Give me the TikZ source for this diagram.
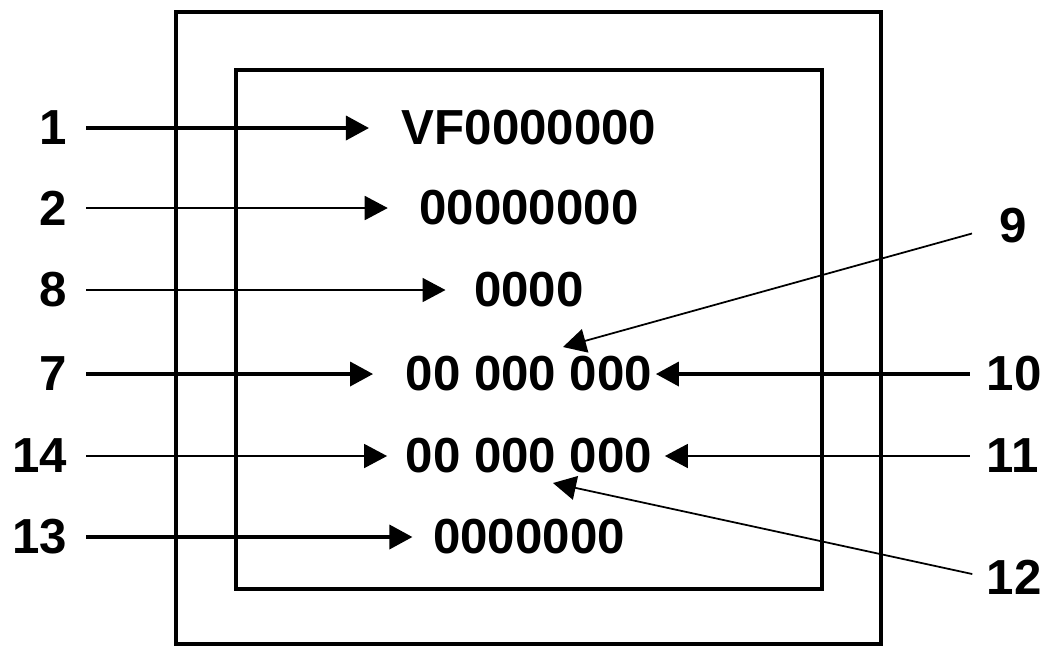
\documentclass[tikz,border=0pt]{standalone}
\usepackage{fontspec}
\setmainfont{Liberation Sans}
\usetikzlibrary{arrows.meta,positioning,calc}

\begin{document}
\begin{tikzpicture}[x=0.01cm, y=-0.01cm,
    every node/.style={font=\bfseries\fontsize{14}{16}\selectfont, inner sep=0pt},
    tip/.style={-{Triangle[length=2.3mm,width=2.4mm]}},
    bold/.style={tip, line width=1pt},
    fine/.style={tip, line width=0.5pt}]
    \useasboundingbox (0,0) rectangle (1047,647);
    % housing and display
    \draw[line width=1pt] (176,12) rectangle (881,644);
    \draw[line width=1.1pt] (236,70) rectangle (822,589);

    % display lines
    \node (vf) at (529,128) {VF0000000};
    \node (code) at (529,208) {00000000};
    \node (block) at (529,290) {0000};
    \node (upper) at (529,374) {00 000 000};
    \node (lower) at (529,456) {00 000 000};
    \node (serial) at (529,537) {0000000};

    % reference numbers
    \node[anchor=east] (n1) at (68,128) {1};
    \node[anchor=east] (n2) at (68,208) {2};
    \node[anchor=east] (n8) at (68,290) {8};
    \node[anchor=east] (n7) at (68,374) {7};
    \node[anchor=east] (n14) at (68,456) {14};
    \node[anchor=east] (n13) at (68,537) {13};
    \node[anchor=west] (n9) at (999,226) {9};
    \node[anchor=west] (n10) at (986,374) {10};
    \node[anchor=west] (n11) at (986,456) {11};
    \node[anchor=west] (n12) at (986,577) {12};
    \coordinate (p9) at (563,347);
    \coordinate (p12) at (553,483);

    \draw[bold, shorten <=1.8mm, shorten >=3.2mm] (n1.east) -- (vf.west);
    \draw[fine, shorten <=1.8mm, shorten >=3.1mm] (n2.east) -- (code.west);
    \draw[fine, shorten <=1.8mm, shorten >=2.8mm] (n8.east) -- (block.west);
    \draw[bold, shorten <=1.8mm, shorten >=3.2mm] (n7.east) -- (upper.west);
    \draw[fine, shorten <=1.8mm, shorten >=1.8mm] (n14.east) -- (lower.west);
    \draw[bold, shorten <=1.8mm, shorten >=2.0mm] (n13.east) -- (serial.west);

    \draw[fine, shorten <=2.8mm] (n9.west) -- (p9);
    \draw[bold, shorten <=1.6mm, shorten >=0.3mm] (n10.west) -- (upper.east);
    \draw[fine, shorten <=1.6mm, shorten >=1.2mm] (n11.west) -- (lower.east);
    \draw[fine, shorten <=1.4mm] (n12.west) -- (p12);
\end{tikzpicture}
\end{document}
